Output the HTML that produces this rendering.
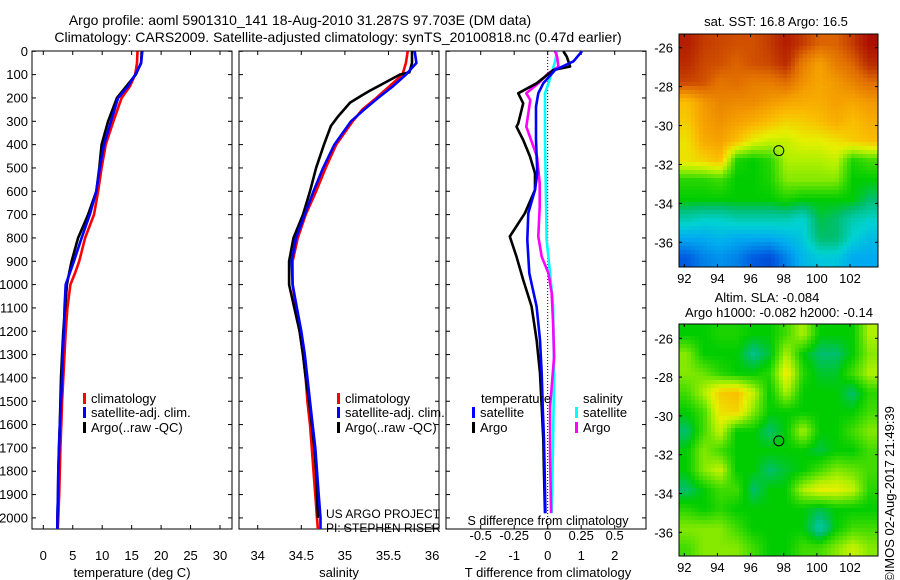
<!DOCTYPE html>
<html><head><meta charset="utf-8"><style>
html,body{margin:0;padding:0;background:#fff}
svg{display:block;font-family:"Liberation Sans",Arial,sans-serif}
</style></head><body>
<svg id="fig" width="900" height="580" viewBox="0 0 900 580">
<defs>
<clipPath id="c1"><rect x="32" y="51" width="200" height="478"/></clipPath>
<clipPath id="c2"><rect x="239" y="51" width="200" height="478"/></clipPath>
<clipPath id="c3"><rect x="446" y="51" width="200" height="478"/></clipPath>
<clipPath id="cm1"><rect x="679" y="34" width="199" height="233"/></clipPath>
<clipPath id="cm2"><rect x="679" y="324" width="199" height="232"/></clipPath>
</defs>
<text x="300" y="25" font-size="14" text-anchor="middle">Argo profile: aoml 5901310_141 18-Aug-2010 31.287S 97.703E (DM data)</text>
<text x="338" y="42" font-size="14" text-anchor="middle">Climatology: CARS2009. Satellite-adjusted climatology: synTS_20100818.nc (0.47d earlier)</text>
<g id="g"></g>
</svg>
<script>
// ---- profile data ----
var depthT = [0,50,100,150,200,300,400,500,600,700,800,900,950,1000,1100,1200,1300,1400,1500,1600,1700,1800,1900,2000,2050];
var tempClim = [16.0,15.9,15.6,14.7,13.3,11.9,10.6,9.9,9.3,8.6,7.1,6.1,5.4,4.6,4.1,3.8,3.6,3.4,3.2,3.05,2.9,2.8,2.7,2.55,2.45];
var tempSat  = [16.8,16.6,15.6,14.4,12.7,11.5,10.3,9.6,9.0,7.9,6.5,5.2,4.5,3.8,3.6,3.5,3.3,3.2,3.0,2.8,2.7,2.55,2.5,2.4,2.4];
var tempArgo = [16.7,16.6,15.7,14.1,12.5,11.0,9.9,9.5,9.0,7.6,5.9,4.8,4.4,4.0,3.7,3.4,3.2,3.0,2.9,2.8,2.65,2.55,2.5,2.4,2.4];
var depthS = [0,50,100,150,200,250,300,400,500,600,700,800,900,1000,1100,1200,1300,1400,1500,1600,1700,1800,1900,2000,2050];
var salClim = [35.72,35.70,35.66,35.51,35.36,35.2,35.09,34.9,34.78,34.67,34.55,34.46,34.40,34.40,34.44,34.48,34.52,34.55,34.57,34.60,34.62,34.64,34.66,34.68,34.69];
var salSat  = [35.8,35.82,35.70,35.55,35.38,35.22,35.07,34.88,34.75,34.64,34.54,34.44,34.39,34.40,34.45,34.5,34.54,34.57,34.60,34.63,34.66,34.68,34.70,34.72,34.72];
var depthSA = [0,50,90,100,140,170,190,220,280,320,400,500,600,700,800,900,1000,1100,1200,1300,1400,1500,1600,1700,1800,1900,2000];
var salArgo = [35.77,35.77,35.74,35.63,35.43,35.28,35.19,35.06,34.92,34.84,34.76,34.67,34.60,34.52,34.41,34.36,34.36,34.42,34.48,34.52,34.55,34.59,34.62,34.65,34.67,34.68,34.69];
// differences
var depthDA = [0,23,65,80,137,180,223,310,323,380,450,523,594,694,794,880,980,1094,1237,1380,1523,1666,1809,1980];
var dTArgo = [0.47,0.57,0.67,0.17,-0.33,-0.88,-0.73,-0.88,-0.93,-0.73,-0.53,-0.38,-0.38,-0.68,-1.13,-0.93,-0.73,-0.48,-0.33,-0.23,-0.18,-0.13,-0.11,-0.08];
var depthDS = [0,43,80,137,180,237,380,523,594,694,808,951,1094,1237,1380,1523,1666,1809,1980];
var dTSat = [1.02,0.77,0.22,-0.13,-0.28,-0.35,-0.35,-0.31,-0.38,-0.58,-0.61,-0.55,-0.33,-0.23,-0.18,-0.15,-0.11,-0.09,-0.07];
var depthDM = [0,23,66,94,137,180,209,323,451,566,666,794,880,951,1037,1166,1309,1523,1737,1980];
var dSArgo = [0.055,0.07,0.08,0.005,-0.07,-0.16,-0.13,-0.16,-0.08,-0.06,-0.06,-0.07,-0.045,0.005,0.03,0.04,0.048,0.018,0.018,0.025];
var depthDC = [0,43,94,137,180,380,666,808,951,1094,1380,1666,1980];
var dSSat = [0.07,0.055,0.03,0.005,-0.02,-0.02,-0.012,-0.008,0.018,0.04,0.048,0.04,0.03];
var depthTicks = [0,100,200,300,400,500,600,700,800,900,1000,1100,1200,1300,1400,1500,1600,1700,1800,1900,2000];
var tempTicks = [0,5,10,15,20,25,30];
var salTicks = [34,34.5,35,35.5,36];
var dTTicks = [-2,-1,0,1,2];
var dSTicks = [-0.5,-0.25,0,0.25,0.5];
// ---- map data (1-degree cells, rows from north) ----
var sstGrid = [
[9.6,9.2,9.1,9,9,9.2,9.6,9.2,8.8,8.8,9.2,9.8],
[9.4,9.1,9,8.8,9,9.1,9.4,8.5,8,8.5,8.8,9.4],
[9.1,9,8.6,8.7,8.5,8.5,8.7,8.2,7.9,8.1,8.4,8.7],
[7.5,8.1,8.4,8.3,8.3,8.1,7.9,7.8,7.8,8,7.9,8.1],
[7.3,8,8.2,8,7.8,7.5,7.2,7.3,7.5,7.8,7.5,7.8],
[7,7.8,8,7.5,6.8,6.5,6.5,6.8,6.8,7,7.3,7.5],
[7,7.2,7.5,5.2,5,5.3,6.3,6.3,6.3,6.5,5.2,5.5],
[5.3,5.3,5.5,5,5,5.2,6,6,6,6,5,5],
[5,5,5,5,5,5,5.2,5,5,5,5,4.5],
[4,3.8,3.8,4,4,4,4,3.7,4.7,4.5,4,3.8],
[3,3,3.2,3,3,3,3.2,3.5,4.5,4.5,3.7,3.3],
[2,2.5,2.7,2.5,2,1.8,2.5,3.2,3.5,3.5,3,3]];
var slaGrid = [
[5,5,5.2,5.2,5,5,5.5,6.3,5,5,5,6.3],
[6,5,5,5,4.3,4.8,6.3,5,4.5,4.5,5,6],
[6,5.8,5.3,5,5,5.3,7,5.3,4.8,4.8,5.5,6.3],
[5.5,6.3,7.3,7.5,6.5,5,6.3,5,5,5,4.5,5.3],
[5,5.5,7,7.2,6,5,5,5,5,5,5,5.5],
[4.5,5.5,6.5,5,5,4.5,5,6.3,5,5,5.5,6],
[5,6,5.5,5,5,5,5,5,4.7,5,5,5.5],
[5,6,6.5,5,5,4.5,4.8,5,5.5,6,5.8,5.5],
[4.5,5,5.5,5.5,4.5,5,5,6.3,6.8,6.8,6.5,5.3],
[5.3,5,5.3,5,5,5,5,5,4.7,5,5,5],
[6,6,6,5.5,5,5,5,5,4,5,5.5,5.5],
[5.5,6,6,6,5.5,5,5,5.5,5.5,6,6.5,6]];
var lonTicks = [92,94,96,98,100,102];
var latTicks = [-26,-28,-30,-32,-34,-36];
var argoLon = 97.703, argoLat = -31.287;

var NS="http://www.w3.org/2000/svg";
var G=document.getElementById('g');
function el(t,a,p){var e=document.createElementNS(NS,t);for(var k in a)e.setAttribute(k,a[k]);(p||G).appendChild(e);return e;}
function txt(x,y,s,anchor,size,p){var e=el('text',{x:x,y:y,'font-size':size||13,'text-anchor':anchor||'middle'},p);e.textContent=s;return e;}
var Y0=51.3, YK=0.2333;
function yD(d){return Y0+d*YK;}
var TOP=51, BOT=529;
function xT(v){return 43.3+v*5.89;}
function xS(v){return 257.7+(v-34)*87.2;}
function xDT(v){return 547.7+v*33.5;}
function xDS(v){return 547.7+v*134;}

function panel(x0,name){
  var r=el('rect',{x:x0,y:TOP,width:200,height:BOT-TOP,fill:'none',stroke:'#000','stroke-width':1});
  
  
  depthTicks.forEach(function(d){
    el('line',{x1:x0,x2:x0+4,y1:yD(d),y2:yD(d),stroke:'#000'});
    el('line',{x1:x0+196,x2:x0+200,y1:yD(d),y2:yD(d),stroke:'#000'});
  });
}
function line(xs,ds,fx,color,clip,name){
  var pts=xs.map(function(v,i){return fx(v).toFixed(1)+','+yD(ds[i]).toFixed(1);}).join(' ');
  var p=el('polyline',{points:pts,fill:'none',stroke:color,'stroke-width':2.6,'stroke-linejoin':'round','clip-path':'url(#'+clip+')'});
  
  
}
// Panel 1
panel(32,'temperature-panel');
depthTicks.forEach(function(d){var t=txt(28,yD(d)+4.5,String(d),'end');

});
tempTicks.forEach(function(v){el('line',{x1:xT(v),x2:xT(v),y1:BOT,y2:BOT-4,stroke:'#000'});el('line',{x1:xT(v),x2:xT(v),y1:TOP,y2:TOP+4,stroke:'#000'});
var t=txt(xT(v),560,String(v));

});
var t1=txt(132,577,'temperature (deg C)');


line(tempClim,depthT,xT,'#f00','c1','temp-climatology-line');
line(tempArgo,depthT,xT,'#000','c1','temp-argo-line');
line(tempSat,depthT,xT,'#00f','c1','temp-satellite-line');
// Panel 2
panel(239,'salinity-panel');
salTicks.forEach(function(v){el('line',{x1:xS(v),x2:xS(v),y1:BOT,y2:BOT-4,stroke:'#000'});el('line',{x1:xS(v),x2:xS(v),y1:TOP,y2:TOP+4,stroke:'#000'});
var t=txt(xS(v),560,String(v));

});
var t2=txt(339,577,'salinity');


line(salClim,depthS,xS,'#f00','c2','sal-climatology-line');
line(salArgo,depthSA,xS,'#000','c2','sal-argo-line');
line(salSat,depthS,xS,'#00f','c2','sal-satellite-line');
// Panel 3
panel(446,'difference-panel');
el('line',{x1:xDT(0),x2:xDT(0),y1:TOP,y2:BOT,stroke:'#000','stroke-dasharray':'1,2'});
dTTicks.forEach(function(v){el('line',{x1:xDT(v),x2:xDT(v),y1:BOT,y2:BOT-4,stroke:'#000'});el('line',{x1:xDT(v),x2:xDT(v),y1:TOP,y2:TOP+4,stroke:'#000'});
var t=txt(xDT(v),560,String(v));

});
dSTicks.forEach(function(v){
var t=txt(xDS(v),540,String(v));

});
var t3=txt(548,577,'T difference from climatology');


var t4=txt(548,525,'S difference from climatology',null,12.5);


line(dSSat,depthDC,xDS,'#0ff','c3','s-diff-satellite-line');
line(dSArgo,depthDM,xDS,'#f0f','c3','s-diff-argo-line');
line(dTArgo,depthDA,xDT,'#000','c3','t-diff-argo-line');
line(dTSat,depthDS,xDT,'#00f','c3','t-diff-satellite-line');

function legend(x,y,color,label,name){
  var g=el('g',{});
  
  
  el('rect',{x:x,y:y-10,width:3,height:11,fill:color},g);
  txt(x+8,y,label,'start',13,g);
}
legend(83,403,'#f00','climatology','legend-climatology');
legend(83,417,'#00f','satellite-adj. clim.','legend-satellite-adj');
legend(83,432,'#000','Argo(..raw -QC)','legend-argo');
legend(337,403,'#f00','climatology','legend2-climatology');
legend(337,417,'#00f','satellite-adj. clim.','legend2-satellite-adj');
legend(337,432,'#000','Argo(..raw -QC)','legend2-argo');
txt(481,403,'temperature','start');
legend(472,417,'#00f','satellite','legend-t-satellite');
legend(472,432,'#000','Argo','legend-t-argo');
txt(583,403,'salinity','start');
legend(575,417,'#0ff','satellite','legend-s-satellite');
legend(575,432,'#f0f','Argo','legend-s-argo');
txt(326,518,'US ARGO PROJECT','start',12);
txt(326,532,'PI: STEPHEN RISER','start',12);

// ---- maps ----
var stops=[[1,[0,40,170]],[2,[0,90,225]],[3,[0,170,240]],[3.7,[0,210,210]],[4.5,[0,190,110]],[5,[0,205,0]],[5.7,[90,225,0]],[6.3,[175,240,0]],[6.8,[230,240,0]],[7.5,[250,190,0]],[8,[245,160,0]],[8.7,[225,110,0]],[9.3,[190,50,0]],[10,[165,0,0]]];
function cmap(v){
  if(v<=stops[0][0])return 'rgb('+stops[0][1]+')';
  for(var i=1;i<stops.length;i++){if(v<=stops[i][0]){var a=stops[i-1],b=stops[i],f=(v-a[0])/(b[0]-a[0]);
  return 'rgb('+[0,1,2].map(function(k){return Math.round(a[1][k]+f*(b[1][k]-a[1][k]));}).join(',')+')';}}
  return 'rgb('+stops[stops.length-1][1]+')';
}
function sample(grid,fr,fc){
  fr=Math.max(0,Math.min(grid.length-1,fr));fc=Math.max(0,Math.min(grid[0].length-1,fc));
  var r0=Math.floor(fr),c0=Math.floor(fc),r1=Math.min(r0+1,grid.length-1),c1=Math.min(c0+1,grid[0].length-1);
  var a=fr-r0,b=fc-c0;
  return grid[r0][c0]*(1-a)*(1-b)+grid[r0][c1]*(1-a)*b+grid[r1][c0]*a*(1-b)+grid[r1][c1]*a*b;
}
function drawMap(grid,top,bot,clip,name,lat26y,lat36y,titleLines){
  var mx0=679,mx1=878;
  var kx=16.57;
  function xL(lon){return 684.3+(lon-92)*kx;}
  var ky=(lat36y-lat26y)/10;
  function yL(lat){return lat26y+(-26-lat)*ky;}
  var g=el('g',{'clip-path':'url(#'+clip+')'});
  
  
  var step=4;
  for(var y=top;y<bot;y+=step){
    for(var x=mx0;x<mx1;x+=step){
      var lon=92+(x+step/2-684.3)/kx, lat=-26-(y+step/2-lat26y)/ky;
      var fc=lon-92.16, fr=-25.8-lat;
      var cell=el('rect',{x:x,y:y,width:step+0.5,height:step+0.5,fill:cmap(sample(grid,fr,fc))},g);
      
      
    }
  }
  el('rect',{x:mx0,y:top,width:mx1-mx0,height:bot-top,fill:'none',stroke:'#000'});
  lonTicks.forEach(function(l){el('line',{x1:xL(l),x2:xL(l),y1:bot,y2:bot-3,stroke:'#000'});el('line',{x1:xL(l),x2:xL(l),y1:top,y2:top+3,stroke:'#000'});
  var t=txt(xL(l),bot+16,String(l));
  
  });
  latTicks.forEach(function(l){el('line',{x1:mx0,x2:mx0+3,y1:yL(l),y2:yL(l),stroke:'#000'});el('line',{x1:mx1,x2:mx1-3,y1:yL(l),y2:yL(l),stroke:'#000'});
  var t=txt(673,yL(l)+5,String(l),'end');
  
  });
  var c=el('circle',{cx:xL(argoLon),cy:yL(argoLat),r:5,fill:'none',stroke:'#000','stroke-width':1});
  
  
  titleLines.forEach(function(s){var t=txt(s[1],s[2],s[0]);
  
  });
}
drawMap(sstGrid,34,267,'cm1','sst-map',47.7,242.3,[['sat. SST: 16.8 Argo: 16.5',776,26]]);
drawMap(slaGrid,324,556,'cm2','sla-map',338.3,532.3,[['Altim. SLA: -0.084',767,302],['Argo h1000: -0.082 h2000: -0.14',779,317]]);
var im=txt(0,0,'©IMOS 02-Aug-2017 21:49:39','middle',13);
im.setAttribute('transform','translate(894,494) rotate(-90)');


</script>
</body></html>
